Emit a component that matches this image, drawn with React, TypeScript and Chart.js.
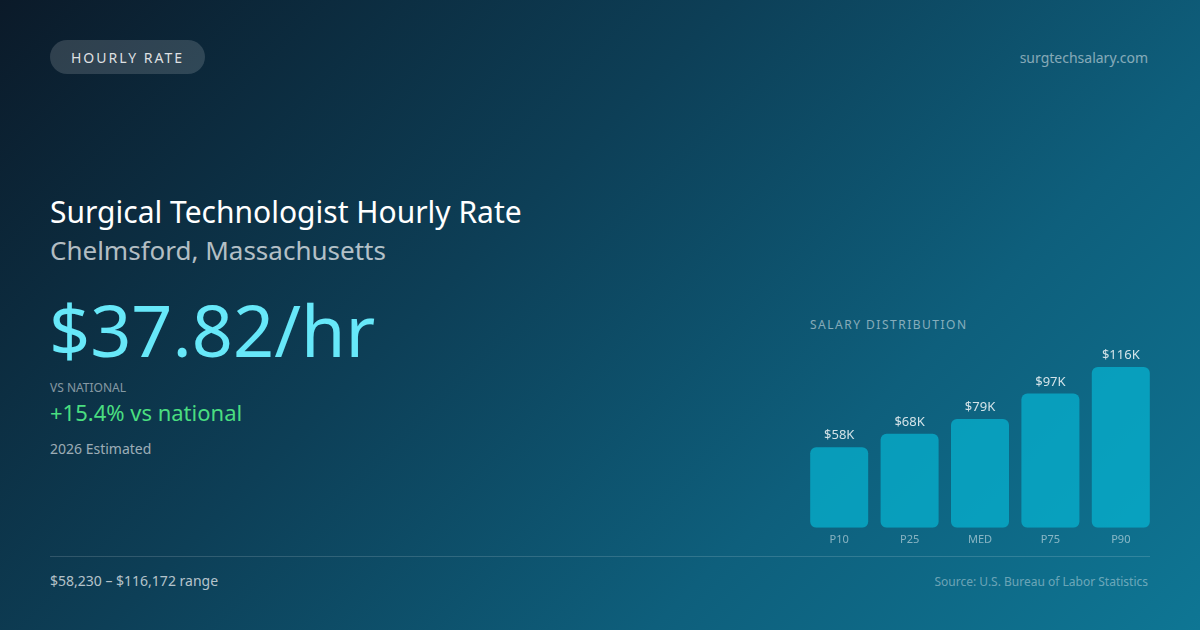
import { useEffect, useRef } from 'react';
import { Chart, registerables } from 'chart.js';

Chart.register(...registerables);

// Salary distribution (annual, USD)
const percentileLabels = ['P10', 'P25', 'MED', 'P75', 'P90'];
const salaryValues = [58230, 68000, 78666, 97000, 116172];
const valueLabels = ['$58K', '$68K', '$79K', '$97K', '$116K'];

const FONT = '"Noto Sans", "Open Sans", sans-serif';

// draws "$58K" etc. above each bar
const barValueLabels = {
  id: 'barValueLabels',
  afterDatasetsDraw(chart: any) {
    const { ctx } = chart;
    const meta = chart.getDatasetMeta(0);
    ctx.save();
    ctx.font = `13px ${FONT}`;
    ctx.fillStyle = 'rgba(255,255,255,0.82)';
    ctx.textAlign = 'center';
    ctx.textBaseline = 'bottom';
    meta.data.forEach((bar: any, i: number) => {
      ctx.fillText(valueLabels[i], bar.x, bar.y - 5);
    });
    ctx.restore();
  },
};

function SalaryChart() {
  const canvasRef = useRef<HTMLCanvasElement>(null);

  useEffect(() => {
    const ctx = canvasRef.current?.getContext('2d');
    if (!ctx) return;
    const chart = new Chart(ctx, {
      type: 'bar',
      data: {
        labels: percentileLabels,
        datasets: [{
          data: salaryValues,
          backgroundColor: 'rgba(6, 182, 212, 0.7)',
          borderRadius: 6,
          borderSkipped: false,
          barPercentage: 0.824,
          categoryPercentage: 1,
        }],
      },
      options: {
        responsive: false,
        animation: false,
        maintainAspectRatio: false,
        layout: { padding: { top: 37, left: 0, right: 0, bottom: 0 } },
        plugins: {
          legend: { display: false },
          tooltip: { enabled: false },
        },
        scales: {
          x: {
            grid: { display: false, drawTicks: false },
            border: { display: false },
            ticks: {
              color: 'rgba(255,255,255,0.5)',
              font: { family: FONT, size: 11 },
              padding: 5,
            },
          },
          y: {
            display: false,
            min: 0,
            max: Math.max(...salaryValues),
          },
        },
      },
      plugins: [barValueLabels],
    });
    return () => chart.destroy();
  }, []);

  return <canvas ref={canvasRef} width={352} height={221} style={{ position: 'absolute', left: 804, top: 330, width: 352, height: 221 }} />;
}

const abs = (left: number, top: number, size: number, color: string, extra: any = {}) => ({
  position: 'absolute' as const,
  left,
  top,
  fontSize: size,
  lineHeight: 1,
  color,
  whiteSpace: 'nowrap' as const,
  ...extra,
});

export default function App() {
  return (
    <div style={{
      position: 'relative',
      width: 1200,
      height: 630,
      overflow: 'hidden',
      fontFamily: FONT,
      background: 'linear-gradient(135deg, #0b1a29 0%, #0d3f57 40%, #0e5f7c 70%, #0e7694 100%)',
    }}>
      <style>{'body{margin:0}'}</style>

      <div style={{
        position: 'absolute', left: 50, top: 40, height: 34, padding: '0 21px',
        borderRadius: 17, background: 'rgba(255,255,255,0.15)', display: 'flex', alignItems: 'center',
        fontSize: 14, letterSpacing: 2, color: 'rgba(255,255,255,0.85)',
      }}>HOURLY RATE</div>

      <div style={abs(0, 51, 14, 'rgba(255,255,255,0.5)', { right: 52, left: 'auto', textAlign: 'right' })}>surgtechsalary.com</div>

      <div style={abs(50, 197, 30, '#ffffff')}>Surgical Technologist Hourly Rate</div>
      <div style={abs(50, 237, 26, 'rgba(255,255,255,0.7)')}>Chelmsford, Massachusetts</div>

      <div style={abs(49, 293, 72, '#67e8f9')}>$37.82/hr</div>

      <div style={abs(50, 382, 12, 'rgba(255,255,255,0.5)')}>VS NATIONAL</div>
      <div style={abs(50, 401, 22, '#4ade80')}>+15.4% vs national</div>
      <div style={abs(50, 442, 14, 'rgba(255,255,255,0.6)')}>2026 Estimated</div>

      <div style={abs(810, 319, 12, 'rgba(255,255,255,0.5)', { letterSpacing: 1.5 })}>SALARY DISTRIBUTION</div>
      <SalaryChart />

      <div style={{ position: 'absolute', left: 50, top: 556, width: 1100, height: 1, background: 'rgba(255,255,255,0.15)' }} />

      <div style={abs(50, 574, 14, 'rgba(255,255,255,0.7)')}>$58,230 – $116,172 range</div>
      <div style={abs(0, 576, 12, 'rgba(255,255,255,0.4)', { right: 52, left: 'auto', textAlign: 'right' })}>Source: U.S. Bureau of Labor Statistics</div>
    </div>
  );
}
